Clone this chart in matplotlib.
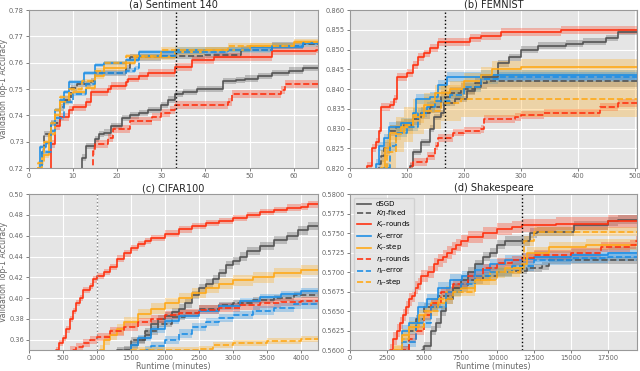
import matplotlib
matplotlib.use("Agg")
import matplotlib.pyplot as plt
import numpy as np

# ---------------- data ----------------
labels = ["dSGD", r"$K\eta$-fixed", r"$K_r$-rounds", r"$K_r$-error", r"$K_r$-step",
          r"$\eta_r$-rounds", r"$\eta_r$-error", r"$\eta_r$-step"]

# (a) Sentiment 140 : (runtime, accuracy) step points
sent_dsgd = [(9, 0.715), (12, 0.724), (13, 0.7285), (15, 0.731), (16, 0.733), (17, 0.7335), (18.5, 0.736),
             (21, 0.739), (23, 0.740), (25, 0.741), (27, 0.742), (30, 0.744), (31.5, 0.746), (33, 0.748),
             (35, 0.749), (38, 0.750), (44, 0.753), (47, 0.7535), (49, 0.754), (52, 0.755), (55, 0.756),
             (59, 0.757), (62, 0.758), (66, 0.758)]
sent_keta = [(2.5, 0.718), (3, 0.726), (3.5, 0.733), (5, 0.737), (7, 0.743), (8, 0.746), (9.5, 0.7505),
             (11, 0.752), (14, 0.753), (15, 0.756), (22, 0.758), (23, 0.762), (30, 0.7625), (40, 0.763),
             (48, 0.765), (55, 0.7665), (62, 0.767), (66, 0.767)]
sent_kr_rounds = [(4, 0.718), (5, 0.729), (6, 0.736), (7, 0.7395), (9, 0.742), (10, 0.743), (13, 0.745),
                  (14, 0.749), (18, 0.750), (18.5, 0.751), (22, 0.7525), (22.5, 0.754), (25, 0.755),
                  (27, 0.756), (33, 0.7585), (37, 0.761), (42, 0.762), (55, 0.7645), (65, 0.765), (66, 0.765)]
sent_kr_error = [(2, 0.718), (2.5, 0.728), (4, 0.7295), (5, 0.737), (6, 0.742), (7, 0.746), (8, 0.749),
                 (9, 0.7525), (12.5, 0.756), (15, 0.759), (17, 0.760), (22, 0.761), (25, 0.764),
                 (33, 0.765), (50, 0.766), (62, 0.7675), (66, 0.7675)]
sent_kr_step = [(1.5, 0.716), (2, 0.720), (3, 0.725), (4.5, 0.733), (6, 0.740), (7, 0.745), (9, 0.748),
                (10, 0.749), (13, 0.7505), (15, 0.755), (17, 0.758), (22, 0.760), (24, 0.762), (33, 0.764),
                (40, 0.765), (50, 0.7665), (60, 0.768), (66, 0.768)]
sent_eta_rounds = [(14, 0.715), (14.5, 0.7265), (15, 0.729), (18, 0.7315), (19, 0.735), (23, 0.738),
                   (28, 0.7395), (30, 0.741), (32, 0.742), (33, 0.744), (45, 0.745), (46, 0.748),
                   (57, 0.7495), (58, 0.752), (66, 0.752)]
sent_eta_error = [(2.5, 0.718), (3, 0.726), (5, 0.734), (6, 0.739), (8, 0.745), (10, 0.748), (13, 0.752),
                  (15, 0.756), (22, 0.757), (24, 0.758), (25, 0.7625), (33, 0.764), (45, 0.765),
                  (55, 0.7665), (62, 0.7675), (66, 0.7675)]
sent_eta_step = [(1.5, 0.716), (2, 0.722), (3.5, 0.730), (5, 0.737), (6, 0.742), (7, 0.747), (9, 0.750),
                 (12, 0.753), (15, 0.757), (17, 0.760), (22, 0.7625), (30, 0.765), (45, 0.7665),
                 (60, 0.768), (66, 0.768)]
sent_spread = [0.0012, 0.0012, 0.0015, 0.0008, 0.0010, 0.0015, 0.0008, 0.0008]

# (b) FEMNIST
fem_dsgd = [(95, 0.815), (105, 0.8205), (110, 0.824), (125, 0.8265), (140, 0.830), (148, 0.833),
            (160, 0.834), (165, 0.8365), (185, 0.8375), (205, 0.8395), (220, 0.8405), (230, 0.843),
            (260, 0.8465), (280, 0.848), (300, 0.850), (330, 0.851), (380, 0.8515), (410, 0.852),
            (450, 0.853), (470, 0.8545), (510, 0.8545)]
fem_keta = [(45, 0.815), (50, 0.821), (55, 0.823), (60, 0.825), (70, 0.8295), (80, 0.8305), (95, 0.831),
            (110, 0.8325), (125, 0.834), (140, 0.8355), (160, 0.838), (175, 0.839), (195, 0.840),
            (220, 0.8415), (240, 0.842), (510, 0.842)]
fem_kr_rounds = [(25, 0.815), (30, 0.8205), (38, 0.825), (45, 0.8265), (50, 0.8295), (55, 0.8355),
                 (70, 0.836), (78, 0.8375), (82, 0.843), (100, 0.844), (110, 0.846), (120, 0.848),
                 (130, 0.849), (140, 0.8505), (155, 0.852), (210, 0.853), (230, 0.8535), (265, 0.8545),
                 (370, 0.855), (510, 0.855)]
fem_kr_error = [(40, 0.815), (45, 0.821), (50, 0.8255), (60, 0.8275), (68, 0.8305), (90, 0.8315),
                (110, 0.834), (115, 0.8375), (140, 0.838), (155, 0.841), (170, 0.843), (230, 0.8435),
                (510, 0.8435)]
fem_kr_step = [(50, 0.815), (55, 0.820), (62, 0.825), (70, 0.829), (90, 0.8305), (110, 0.8335),
               (130, 0.836), (150, 0.839), (175, 0.840), (200, 0.842), (230, 0.8435), (250, 0.845),
               (300, 0.8455), (510, 0.8455)]
fem_eta_rounds = [(100, 0.815), (105, 0.8205), (110, 0.8215), (135, 0.823), (150, 0.8255), (155, 0.8275),
                  (180, 0.829), (200, 0.8295), (230, 0.830), (235, 0.8325), (290, 0.833), (300, 0.8335),
                  (340, 0.834), (440, 0.8355), (470, 0.8365), (510, 0.8365)]
fem_eta_error = [(55, 0.815), (60, 0.820), (70, 0.8255), (80, 0.829), (100, 0.8305), (120, 0.834),
                 (135, 0.8355), (150, 0.837), (175, 0.8385), (200, 0.8405), (230, 0.8425), (260, 0.843),
                 (510, 0.843)]
fem_eta_step = [(50, 0.815), (55, 0.820), (65, 0.824), (80, 0.8285), (95, 0.831), (110, 0.833),
                (130, 0.8345), (160, 0.8365), (195, 0.8375), (510, 0.8375)]
fem_spread = [0.0008, 0.0015, 0.0010, 0.0012, 0.0020, 0.0010, 0.0012, 0.0045]

# (c) CIFAR100
cif_dsgd = [(1300, 0.340), (1400, 0.350), (1500, 0.355), (1600, 0.360), (1700, 0.365), (1800, 0.375),
            (1900, 0.380), (2000, 0.383), (2100, 0.387), (2200, 0.390), (2300, 0.395), (2400, 0.403),
            (2500, 0.410), (2600, 0.414), (2700, 0.418), (2800, 0.424), (2900, 0.432), (3000, 0.436),
            (3100, 0.440), (3200, 0.445), (3400, 0.450), (3600, 0.456), (3800, 0.460), (3950, 0.465),
            (4100, 0.469), (4300, 0.469)]
cif_keta = [(1200, 0.340), (1300, 0.350), (1500, 0.360), (1700, 0.368), (1900, 0.375), (2100, 0.382),
            (2300, 0.386), (2500, 0.390), (2800, 0.393), (3000, 0.395), (3300, 0.398), (3600, 0.400),
            (3900, 0.403), (4300, 0.406)]
cif_kr_rounds = [(350, 0.340), (400, 0.350), (450, 0.357), (500, 0.362), (550, 0.370), (600, 0.380),
                 (650, 0.388), (700, 0.395), (750, 0.400), (800, 0.408), (900, 0.412), (950, 0.418),
                 (1000, 0.421), (1100, 0.425), (1200, 0.430), (1300, 0.438), (1400, 0.443), (1500, 0.448),
                 (1600, 0.452), (1700, 0.455), (1800, 0.458), (2000, 0.462), (2200, 0.466), (2400, 0.469),
                 (2600, 0.472), (2800, 0.474), (3000, 0.477), (3200, 0.480), (3400, 0.483), (3600, 0.485),
                 (3800, 0.487), (4000, 0.488), (4100, 0.490), (4300, 0.490)]
cif_kr_error = [(1400, 0.340), (1500, 0.355), (1600, 0.362), (1800, 0.370), (2000, 0.378), (2200, 0.383),
                (2500, 0.388), (2800, 0.392), (3100, 0.397), (3400, 0.401), (3700, 0.404), (4000, 0.407),
                (4300, 0.408)]
cif_kr_step = [(1000, 0.340), (1050, 0.350), (1100, 0.360), (1200, 0.365), (1300, 0.370), (1400, 0.377),
               (1600, 0.385), (1800, 0.390), (2000, 0.395), (2200, 0.400), (2400, 0.405), (2600, 0.410),
               (2800, 0.414), (3000, 0.417), (3300, 0.420), (3600, 0.424), (4000, 0.427), (4300, 0.428)]
cif_eta_rounds = [(550, 0.340), (600, 0.350), (700, 0.353), (800, 0.357), (900, 0.360), (1000, 0.363),
                  (1200, 0.368), (1400, 0.372), (1600, 0.377), (1800, 0.380), (2000, 0.384), (2200, 0.386),
                  (2500, 0.389), (2800, 0.391), (3100, 0.393), (3400, 0.395), (3700, 0.396), (4000, 0.397),
                  (4300, 0.398)]
cif_eta_error = [(1600, 0.340), (1700, 0.350), (1800, 0.354), (2000, 0.360), (2200, 0.366), (2400, 0.372),
                 (2600, 0.377), (2800, 0.381), (3000, 0.384), (3300, 0.388), (3600, 0.391), (3900, 0.394),
                 (4300, 0.397)]
cif_eta_step = [(1400, 0.340), (1500, 0.350), (2500, 0.351), (2700, 0.355), (3000, 0.357), (3500, 0.359),
                (4000, 0.361), (4300, 0.362)]
cif_spread = [0.004, 0.003, 0.003, 0.003, 0.005, 0.004, 0.004, 0.003]

# (d) Shakespeare
shk_dsgd = [(4700, 0.5590), (4900, 0.5600), (5000, 0.5605), (5500, 0.5625), (5800, 0.5635), (6200, 0.5650),
            (6500, 0.5665), (7000, 0.5680), (7500, 0.5690), (8000, 0.5700), (8500, 0.5710), (9000, 0.5720),
            (9500, 0.5725), (10000, 0.5735), (10500, 0.5740), (12200, 0.5750), (12700, 0.5752),
            (15200, 0.5760), (17500, 0.5765), (18200, 0.5767), (19600, 0.5767)]
shk_keta = [(3300, 0.5590), (3500, 0.5600), (4000, 0.5625), (4500, 0.5640), (5000, 0.5655), (6000, 0.5670),
            (7000, 0.5680), (8000, 0.5690), (9000, 0.5695), (10000, 0.5700), (11000, 0.5702),
            (12000, 0.5705), (13000, 0.5708), (13500, 0.5715), (16000, 0.5715), (19600, 0.5717)]
shk_kr_rounds = [(2500, 0.5590), (2700, 0.5600), (2900, 0.5615), (3200, 0.5625), (3400, 0.5635),
                 (3600, 0.5645), (3800, 0.5655), (4000, 0.5665), (4200, 0.5670), (4400, 0.5680),
                 (4600, 0.5685), (4800, 0.5695), (5300, 0.5700), (5700, 0.5710), (6000, 0.5715),
                 (6300, 0.5720), (6600, 0.5725), (6900, 0.5730), (7200, 0.5735), (7500, 0.5740),
                 (8000, 0.5745), (9000, 0.5750), (10000, 0.5755), (11000, 0.5758), (11700, 0.5760),
                 (14000, 0.5762), (17500, 0.5765), (19600, 0.5765)]
shk_kr_error = [(3300, 0.5590), (3500, 0.5625), (4000, 0.5635), (4600, 0.5655), (5200, 0.5665),
                (6000, 0.5680), (6800, 0.5690), (7600, 0.5695), (8500, 0.5703), (9500, 0.5710),
                (10500, 0.5715), (11700, 0.5717), (12500, 0.5720), (15000, 0.5722), (17500, 0.5725),
                (19600, 0.5727)]
shk_kr_step = [(2800, 0.5590), (3000, 0.5600), (3500, 0.5620), (4000, 0.5630), (4700, 0.5645),
               (5500, 0.5660), (6500, 0.5675), (7500, 0.5680), (8500, 0.5690), (9500, 0.5700),
               (10500, 0.5705), (11700, 0.5710), (12000, 0.5725), (13500, 0.5732), (16000, 0.5735),
               (19600, 0.5737)]
shk_eta_rounds = [(3300, 0.5590), (3500, 0.5600), (4000, 0.5615), (4500, 0.5625), (5000, 0.5645),
                  (5500, 0.5660), (6200, 0.5675), (7000, 0.5685), (8000, 0.5695), (9000, 0.5705),
                  (10000, 0.5712), (11000, 0.5715), (11700, 0.5718), (12500, 0.5722), (15000, 0.5725),
                  (17000, 0.5732), (19000, 0.5735), (19400, 0.5740), (19600, 0.5740)]
shk_eta_error = [(3300, 0.5590), (3500, 0.5610), (4500, 0.5635), (5500, 0.5655), (6500, 0.5675),
                 (7500, 0.5685), (8500, 0.5695), (9500, 0.5700), (11000, 0.5708), (12500, 0.5715),
                 (15000, 0.5718), (17500, 0.5720), (19600, 0.5722)]
shk_eta_step = [(2800, 0.5590), (3000, 0.5600), (3500, 0.5615), (4000, 0.5630), (5000, 0.5650),
                (6000, 0.5665), (7000, 0.5675), (8500, 0.5690), (10000, 0.5700), (11500, 0.5705),
                (11800, 0.5740), (12500, 0.5752), (19600, 0.5755)]
shk_spread = [0.0006, 0.0005, 0.0008, 0.0007, 0.0007, 0.0006, 0.0006, 0.0006]

# ---------------- style ----------------
colors = ["#555555", "#555555", "#FF3312", "#1F8FE5", "#FFAA1A", "#FF3312", "#1F8FE5", "#FFAA1A"]
styles = ["-", "--", "-", "-", "-", "--", "--", "--"]

panels = [
    dict(title="(a) Sentiment 140", series=[sent_dsgd, sent_keta, sent_kr_rounds, sent_kr_error,
                                            sent_kr_step, sent_eta_rounds, sent_eta_error, sent_eta_step],
         spread=sent_spread, xlim=(0, 65.5), ylim=(0.72, 0.78), xticks=np.arange(0, 61, 10),
         yticks=np.arange(0.72, 0.7801, 0.01), yfmt="{:.2f}", vline=33.3, vcol="black",
         pos=[0.045, 0.547, 0.452, 0.426]),
    dict(title="(b) FEMNIST", series=[fem_dsgd, fem_keta, fem_kr_rounds, fem_kr_error,
                                      fem_kr_step, fem_eta_rounds, fem_eta_error, fem_eta_step],
         spread=fem_spread, xlim=(0, 505), ylim=(0.82, 0.86), xticks=np.arange(0, 501, 100),
         yticks=np.arange(0.82, 0.8601, 0.005), yfmt="{:.3f}", vline=167, vcol="black",
         pos=[0.547, 0.547, 0.449, 0.426]),
    dict(title="(c) CIFAR100", series=[cif_dsgd, cif_keta, cif_kr_rounds, cif_kr_error,
                                       cif_kr_step, cif_eta_rounds, cif_eta_error, cif_eta_step],
         spread=cif_spread, xlim=(0, 4250), ylim=(0.35, 0.50), xticks=np.arange(0, 4001, 500),
         yticks=np.arange(0.36, 0.5001, 0.02), yfmt="{:.2f}", vline=1000, vcol="#888888",
         pos=[0.045, 0.056, 0.452, 0.421]),
    dict(title="(d) Shakespeare", series=[shk_dsgd, shk_keta, shk_kr_rounds, shk_kr_error,
                                          shk_kr_step, shk_eta_rounds, shk_eta_error, shk_eta_step],
         spread=shk_spread, xlim=(0, 19500), ylim=(0.56, 0.58), xticks=np.arange(0, 17501, 2500),
         yticks=np.arange(0.56, 0.58001, 0.0025), yfmt="{:.4f}", vline=11650, vcol="black",
         pos=[0.547, 0.056, 0.449, 0.421]),
]

fig = plt.figure(figsize=(6.4, 3.71), dpi=100)

for i, p in enumerate(panels):
    ax = fig.add_axes(p["pos"])
    ax.set_facecolor("#E5E5E5")
    ax.grid(True, color="white", linewidth=0.8)
    ax.set_axisbelow(True)
    for sp in ax.spines.values():
        sp.set_color("#999999")
        sp.set_linewidth(0.8)
    for k, s in enumerate(p["series"]):
        x = np.array([a for a, b in s])
        y = np.array([b for a, b in s])
        d = p["spread"][k]
        ax.fill_between(x, y - d, y + d, step="post", color=colors[k], alpha=0.3, linewidth=0)
        ax.plot(x, y, drawstyle="steps-post", color=colors[k], linestyle=styles[k],
                linewidth=1.2, label=labels[k])
    ax.axvline(p["vline"], color=p["vcol"], linestyle=":", linewidth=1.0)
    ax.set_xlim(*p["xlim"])
    ax.set_ylim(*p["ylim"])
    ax.set_xticks(p["xticks"])
    ax.set_yticks(p["yticks"])
    ax.set_yticklabels([p["yfmt"].format(v) for v in p["yticks"]])
    ax.tick_params(labelsize=4.8, colors="#666666", length=2, width=0.6, pad=1.5)
    ax.set_title(p["title"], fontsize=7, pad=2, color="#222222")
    if i in (0, 2):
        ax.set_ylabel("Validation Top-1 Accuracy", fontsize=5.6, color="#666666", labelpad=1)
    if i in (2, 3):
        ax.set_xlabel("Runtime (minutes)", fontsize=5.8, color="#666666", labelpad=0.5)
    if i == 3:
        leg = ax.legend(loc="upper left", fontsize=5.0, frameon=True, handlelength=2.0,
                        handletextpad=0.7, borderpad=0.5, labelspacing=0.2,
                        facecolor="#E5E5E5", edgecolor="#CCCCCC")

fig.savefig("out.png", dpi=100)
